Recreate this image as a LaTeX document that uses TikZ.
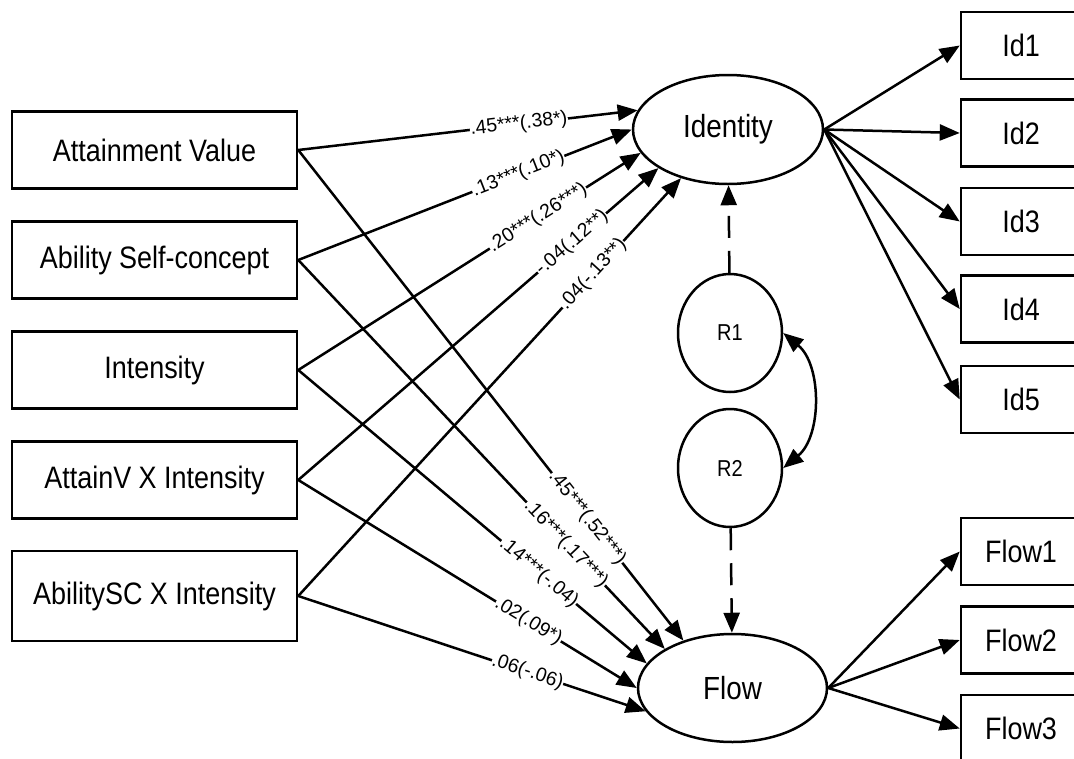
\documentclass[tikz,border=0pt]{standalone}
\usepackage{fontspec}
\setmainfont{Liberation Sans}
\newfontfamily\tallfont{Liberation Sans}[FakeStretch=0.87]
\usetikzlibrary{arrows.meta,shapes.geometric}
\tikzset{
  box/.style={draw,line width=2.5pt,minimum width=285pt,minimum height=77pt,font=\tallfont\fontsize{31}{33}\selectfont},
  item/.style={draw,line width=2.5pt,minimum width=120pt,minimum height=67pt,font=\tallfont\fontsize{31}{33}\selectfont},
  latent/.style={draw,ellipse,line width=2.5pt,inner sep=0pt,font=\tallfont\fontsize{32}{34}\selectfont},
  resid/.style={latent,minimum width=104pt,minimum height=118pt,font=\tallfont\fontsize{23}{25}\selectfont},
  coef/.style={sloped,fill=white,inner sep=0.5pt,font=\fontsize{19.5}{20}\selectfont}
}
\begin{document}
\begin{tikzpicture}[x=1pt,y=-1pt,line width=2.5pt,>={Triangle[length=20pt,width=16pt]}]
    \useasboundingbox (0,0) rectangle (1074,758);
    %% Predictors
    \foreach \y/\n/\t in {150/av/Attainment Value,260/asc/Ability Self-concept,370/int/Intensity,480/avi/AttainV X Intensity}
        \node[box] (\n) at (154.5,\y) {\t};
    \node[box,minimum height=90pt] (asci) at (154.5,596) {AbilitySC X Intensity};
    %% Latent factors
    \node[latent,minimum width=190pt,minimum height=109pt] (iden) at (728,129.5) {Identity};
    \node[latent,minimum width=189pt,minimum height=108pt] (flow) at (732.5,688) {Flow};
    \node[resid] (r1) at (730,333) {R1};
    \node[resid] (r2) at (730,468) {R2};
    %% Indicators
    \foreach \y/\n in {45.5/1,133/2,221.5/3,309/4,399.5/5}
    {
        \node[item] (id\n) at (1021,\y) {Id\n};
        \draw[->] (iden.east) -- (id\n.west);
    }
    \foreach \y/\n in {551.5/1,640/2,728.5/3}
    {
        \node[item] (fl\n) at (1021,\y) {Flow\n};
        \draw[->] (flow.east) -- (fl\n.west);
    }
    %% Paths to Identity
    \foreach \n/\a/\p/\t in {av/168/.65/{.45***(.38*)},asc/180/.66/{.13***(.10*)},int/195/.70/{.20***(.26***)},avi/209/.76/{-.04(.12**)},asci/226/.77/{.04(-.13**)}}
        \draw[->] (\n.east) -- (iden.\a) node[coef,pos=\p] {\t};
    %% Paths to Flow
    \foreach \n/\a/\p/\t in {av/136/.75/{.45***(.52***)},asc/150/.73/{.16***(.17***)},int/164/.69/{.14***(-.04)},avi/180/.68/{.02(.09*)},asci/195/.66/{.06(-.06)}}
        \draw[->] (\n.east) -- (flow.\a) node[coef,pos=\p] {\t};
    %% Residuals
    \draw[->,dash pattern=on 22pt off 13pt] (r1) -- (iden);
    \draw[->,dash pattern=on 22pt off 13pt] (r2) -- (flow);
    \draw[<->] (r1.east) .. controls (822,365) and (822,436) .. (r2.east);
\end{tikzpicture}
\end{document}
